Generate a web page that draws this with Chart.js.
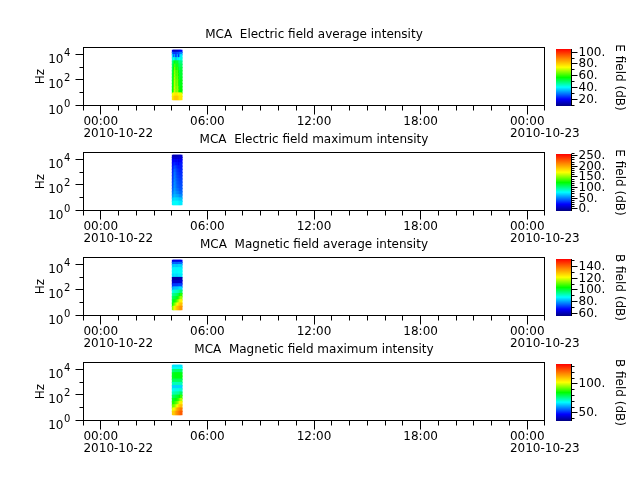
<!DOCTYPE html>
<html>
<head>
<meta charset="utf-8">
<script src="https://cdn.jsdelivr.net/npm/chart.js@4.4.0/dist/chart.umd.min.js"></script>
<style>
  html, body { margin: 0; padding: 0; background: #fff; }
  #wrap { position: relative; width: 640px; height: 480px; overflow: hidden; }
  #wrap canvas { position: absolute; left: 0; }
</style>
</head>
<body>
<div id="wrap"></div>
<script>
// ---- data ----
const titles = [
  'MCA  Electric field average intensity',
  'MCA  Electric field maximum intensity',
  'MCA  Magnetic field average intensity',
  'MCA  Magnetic field maximum intensity'
];
const cbTitles = ['E field (dB)', 'E field (dB)', 'B field (dB)', 'B field (dB)'];
const cbRanges = [[10, 106], [-8, 260], [57, 153], [37, 135]];
const cbLabelStep = [20, 50, 20, 50];
const cbMinorStep = [10, 10, 10, 10];

// x axis in hours from 2010-10-22 00:00
const xRange = [-1, 25];
const xTicks = [0, 6, 12, 18, 24];
const xTickLabels = [['00:00', '2010-10-22'], ['06:00'], ['12:00'], ['18:00'], ['00:00', '2010-10-23']];
const yRange = [1, 40000];
const yTicks = [1, 10, 100, 1000, 10000];
const yTickLabels = [['10', '0'], null, ['10', '2'], null, ['10', '4']];

// MCA channel band edges (Hz), low to high: 16 channels
const freqEdges = [3.16, 5.62, 10, 17.8, 31.6, 56.2, 100, 178, 316, 562, 1000, 1780, 3160, 5620, 10000, 15000, 22000];
// sample times (column centres)
const times = ['04:04', '04:08', '04:12', '04:16', '04:20', '04:24', '04:28', '04:32'];

// intensity grids (dB): one row per channel, low to high
const eAvg = [
  [78, 80, 82, 82, 82, 80, 78, 78],
  [74, 76, 78, 78, 78, 76, 74, 74],
  [58, 64, 74, 64, 70, 62, 58, 58],
  [57, 63, 74, 63, 70, 62, 57, 58],
  [56, 62, 73, 62, 69, 60, 56, 57],
  [56, 62, 73, 62, 68, 60, 56, 57],
  [55, 61, 72, 61, 67, 59, 55, 56],
  [55, 60, 71, 60, 66, 58, 55, 55],
  [54, 60, 70, 60, 65, 58, 54, 55],
  [53, 58, 68, 58, 62, 56, 53, 54],
  [52, 56, 64, 56, 60, 54, 52, 52],
  [50, 54, 58, 54, 56, 52, 50, 50],
  [44, 42, 46, 36, 44, 40, 42, 44],
  [38, 30, 36, 22, 38, 24, 34, 40],
  [30, 26, 26, 26, 28, 28, 30, 32],
  [20, 16, 15, 17, 16, 18, 20, 22]
];
const eMax = [
  [78, 80, 82, 80, 80, 78, 76, 76],
  [70, 72, 74, 72, 72, 70, 68, 68],
  [58, 62, 66, 62, 62, 60, 56, 56],
  [50, 56, 62, 56, 54, 52, 48, 48],
  [46, 52, 60, 52, 50, 48, 44, 44],
  [42, 50, 58, 50, 46, 44, 42, 42],
  [40, 48, 58, 48, 44, 42, 40, 40],
  [38, 46, 56, 46, 42, 40, 38, 38],
  [36, 44, 54, 44, 40, 38, 36, 36],
  [34, 42, 52, 42, 38, 36, 34, 34],
  [32, 40, 48, 40, 36, 34, 32, 32],
  [30, 36, 42, 36, 32, 30, 30, 30],
  [26, 30, 34, 26, 30, 24, 28, 30],
  [22, 24, 26, 18, 26, 18, 22, 24],
  [14, 12, 14, 10, 14, 12, 14, 16],
  [8, 4, 4, 6, 6, 8, 10, 10]
];
const bAvg = [
  [114, 118, 124, 128, 130, 132, 134, 135],
  [106, 110, 114, 118, 122, 126, 128, 130],
  [102, 104, 106, 108, 112, 116, 120, 124],
  [99, 100, 101, 102, 104, 108, 112, 116],
  [95, 96, 97, 98, 99, 101, 104, 108],
  [90, 91, 92, 92, 93, 94, 96, 98],
  [82, 83, 84, 84, 84, 85, 86, 86],
  [72, 73, 73, 73, 73, 74, 74, 74],
  [64, 64, 64, 64, 64, 64, 64, 65],
  [60, 60, 60, 60, 60, 60, 61, 61],
  [86, 86, 87, 86, 86, 87, 87, 87],
  [88, 88, 89, 88, 88, 89, 89, 89],
  [88, 88, 88, 88, 88, 88, 88, 88],
  [84, 84, 85, 84, 84, 85, 85, 85],
  [76, 76, 77, 76, 76, 77, 77, 77],
  [66, 66, 66, 66, 66, 66, 67, 67]
];
const bMax = [
  [110, 110, 112, 116, 118, 120, 122, 124],
  [102, 103, 106, 110, 114, 116, 118, 120],
  [94, 94, 96, 100, 104, 108, 110, 112],
  [88, 88, 90, 92, 94, 98, 102, 106],
  [84, 84, 85, 86, 88, 90, 94, 98],
  [80, 80, 81, 82, 83, 84, 86, 90],
  [74, 74, 75, 75, 76, 76, 78, 80],
  [70, 70, 71, 71, 71, 71, 72, 72],
  [66, 66, 66, 66, 66, 66, 66, 66],
  [74, 74, 74, 74, 74, 74, 74, 74],
  [80, 80, 80, 80, 80, 80, 80, 80],
  [84, 84, 85, 85, 85, 85, 85, 85],
  [84, 84, 85, 85, 85, 85, 85, 85],
  [78, 78, 79, 79, 79, 79, 79, 79],
  [70, 70, 70, 70, 70, 70, 70, 70],
  [67, 67, 67, 67, 67, 67, 67, 67]
];
const grids = [eAvg, eMax, bAvg, bMax];

// ---- colours ----
const cmapStops = [
  [0.00, [0, 0, 130]],
  [0.12, [0, 0, 255]],
  [0.33, [0, 255, 255]],
  [0.50, [0, 255, 0]],
  [0.68, [255, 255, 0]],
  [0.84, [255, 130, 0]],
  [1.00, [255, 0, 0]]
];
function cmap(t) {
  t = Math.max(0, Math.min(1, t));
  for (let i = 1; i < cmapStops.length; i++) {
    const [t0, c0] = cmapStops[i - 1];
    const [t1, c1] = cmapStops[i];
    if (t <= t1) {
      const f = (t - t0) / (t1 - t0);
      return 'rgb(' + c0.map((c, k) => Math.round(c + (c1[k] - c) * f)).join(',') + ')';
    }
  }
  return 'rgb(255,0,0)';
}

const FONT = '"DejaVu Sans", sans-serif';
Chart.defaults.font.family = FONT;
Chart.defaults.font.size = 12;

const hours = s => { const [h, m] = s.split(':').map(Number); return h + m / 60; };

const CANVAS_H = 150;
const PLOT = { left: 83, right: 545, top: 47, bottom: 106 };
const CB = { left: 556, right: 572, top: 49, bottom: 106 };

// axes, frame and labels of a spectrogram panel
const panelDeco = {
  id: 'panelDeco',
  afterDraw(chart, args, opts) {
    const { ctx, chartArea: a, scales: { x, y } } = chart;
    ctx.save();
    ctx.strokeStyle = '#000';
    ctx.fillStyle = '#000';
    ctx.lineWidth = 1;
    ctx.strokeRect(a.left + 0.5, a.top + 0.5, a.right - a.left - 1, a.bottom - a.top - 1);

    ctx.beginPath();
    for (let h = xRange[0]; h <= xRange[1]; h++) {
      let px = Math.floor(x.getPixelForValue(h)) + 0.5;
      px = Math.min(Math.max(px, a.left + 0.5), a.right - 0.5);
      const len = xTicks.includes(h) ? 9 : 5;
      ctx.moveTo(px, a.bottom - 0.5);
      ctx.lineTo(px, a.bottom - 0.5 + len);
    }
    yTicks.forEach((v, i) => {
      const py = Math.round(y.getPixelForValue(v)) - 0.5;
      const len = yTickLabels[i] ? 8 : 4;
      ctx.moveTo(a.left + 0.5, py);
      ctx.lineTo(a.left + 0.5 - len, py);
    });
    ctx.stroke();

    // x tick labels: first line centred on the tick, second left-aligned with it
    ctx.font = '12px ' + FONT;
    ctx.textBaseline = 'middle';
    xTicks.forEach((h, i) => {
      const px = x.getPixelForValue(h);
      const lines = xTickLabels[i];
      const w = ctx.measureText(lines[0]).width;
      ctx.textAlign = 'left';
      lines.forEach((t, k) => ctx.fillText(t, px - w / 2, a.bottom + 16 + k * 12));
    });

    // y tick labels with exponents
    yTicks.forEach((v, i) => {
      const lab = yTickLabels[i];
      if (!lab) return;
      const py = Math.round(y.getPixelForValue(v)) - 0.5;
      ctx.textBaseline = 'alphabetic';
      ctx.textAlign = 'right';
      ctx.font = '12px ' + FONT;
      ctx.fillText(lab[0], a.left - 19.5, py + 8.5);
      ctx.textAlign = 'left';
      ctx.font = '10px ' + FONT;
      ctx.fillText(lab[1], a.left - 19, py + 1.5);
    });

    // axis title and panel title
    ctx.font = '12px ' + FONT;
    ctx.textAlign = 'center';
    ctx.textBaseline = 'middle';
    ctx.save();
    ctx.translate(41, (a.top + a.bottom) / 2);
    ctx.rotate(-Math.PI / 2);
    ctx.fillText('Hz', 0, 0);
    ctx.restore();
    ctx.fillText(opts.title, (a.left + a.right) / 2, a.top - 12);
    ctx.restore();
  }
};

// ticks, labels and title of a colour bar
const cbDeco = {
  id: 'cbDeco',
  afterDraw(chart, args, opts) {
    const { ctx, chartArea: a, scales: { y } } = chart;
    const [lo, hi] = opts.range;
    ctx.save();
    ctx.strokeStyle = '#000';
    ctx.fillStyle = '#000';
    ctx.lineWidth = 1;
    const ax = a.right - 0.5;
    ctx.beginPath();
    ctx.moveTo(ax, a.top);
    ctx.lineTo(ax, a.bottom);
    const first = Math.ceil(lo / opts.minor) * opts.minor;
    for (let v = first; v <= hi; v += opts.minor) {
      const py = Math.round(y.getPixelForValue(v)) - 0.5;
      const major = v % opts.step === 0;
      ctx.moveTo(ax, py);
      ctx.lineTo(ax + (major ? 6 : 3), py);
    }
    ctx.stroke();
    ctx.font = '12px ' + FONT;
    ctx.textAlign = 'left';
    ctx.textBaseline = 'middle';
    for (let v = Math.ceil(lo / opts.step) * opts.step; v <= hi; v += opts.step) {
      ctx.fillText(v + '.', ax + 7, Math.round(y.getPixelForValue(v)));
    }
    ctx.textAlign = 'center';
    ctx.translate(619, (a.top + a.bottom) / 2);
    ctx.rotate(Math.PI / 2);
    ctx.fillText(opts.title, 0, 0);
    ctx.restore();
  }
};

const wrap = document.getElementById('wrap');
function makeCanvas(top) {
  const c = document.createElement('canvas');
  c.width = 640;
  c.height = CANVAS_H;
  c.style.top = top + 'px';
  wrap.appendChild(c);
  return c;
}

grids.forEach((grid, i) => {
  const [lo, hi] = cbRanges[i];
  const top = 105 * i;

  new Chart(makeCanvas(top), {
    type: 'bar',
    data: {
      datasets: grid.map((row, r) => ({
        data: times.map(t => ({ x: hours(t), y: [freqEdges[r], freqEdges[r + 1]] })),
        backgroundColor: row.map(v => cmap((v - lo) / (hi - lo))),
        borderWidth: 0,
        inflateAmount: 0.6,
        grouped: false,
        barPercentage: 1,
        categoryPercentage: 1
      }))
    },
    options: {
      responsive: false,
      animation: false,
      devicePixelRatio: 1,
      layout: { padding: { left: PLOT.left, right: 640 - PLOT.right, top: PLOT.top, bottom: CANVAS_H - PLOT.bottom } },
      plugins: {
        legend: { display: false },
        tooltip: { enabled: false },
        panelDeco: { title: titles[i] }
      },
      scales: {
        x: { type: 'linear', min: xRange[0], max: xRange[1], offset: false, display: false },
        y: { type: 'logarithmic', min: yRange[0], max: yRange[1], display: false }
      }
    },
    plugins: [panelDeco]
  });

  new Chart(makeCanvas(top), {
    type: 'bar',
    data: {
      labels: [''],
      datasets: [{
        data: [[lo, hi]],
        borderWidth: 0,
        barPercentage: 1,
        categoryPercentage: 1,
        backgroundColor: c => {
          const ch = c.chart;
          if (!ch.chartArea) return '#000';
          const ys = ch.scales.y;
          const g = ch.ctx.createLinearGradient(0, ys.getPixelForValue(lo), 0, ys.getPixelForValue(hi));
          cmapStops.forEach(([t]) => g.addColorStop(t, cmap(t)));
          return g;
        }
      }]
    },
    options: {
      responsive: false,
      animation: false,
      devicePixelRatio: 1,
      layout: { padding: { left: CB.left, right: 640 - CB.right, top: CB.top, bottom: CANVAS_H - CB.bottom } },
      plugins: {
        legend: { display: false },
        tooltip: { enabled: false },
        cbDeco: { range: cbRanges[i], step: cbLabelStep[i], minor: cbMinorStep[i], title: cbTitles[i] }
      },
      scales: {
        x: { display: false },
        y: { min: lo, max: hi, display: false }
      }
    },
    plugins: [cbDeco]
  });
});
</script>
</body>
</html>
